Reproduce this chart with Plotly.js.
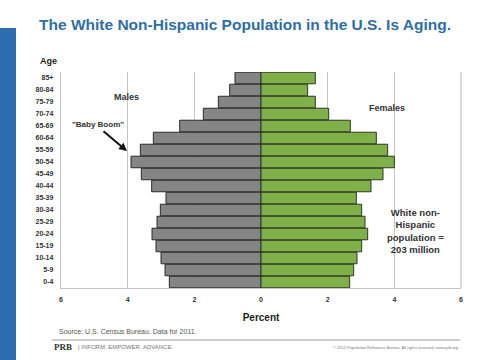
<!DOCTYPE html>
<html><head><meta charset="utf-8">
<script src="https://cdn.plot.ly/plotly-3.0.1.min.js"></script>
<style>html,body{margin:0;padding:0;background:#fff}#c{width:480px;height:360px}</style>
</head><body><div id="c"></div>
<script>
const ageGroups = ["0-4","5-9","10-14","15-19","20-24","25-29","30-34","35-39","40-44","45-49","50-54","55-59","60-64","65-69","70-74","75-79","80-84","85+"];
const males =   [2.75,2.88,3.00,3.15,3.27,3.12,3.02,2.85,3.28,3.59,3.90,3.62,3.23,2.44,1.73,1.28,0.94,0.78];
const females = [2.66,2.78,2.88,3.02,3.20,3.12,3.02,2.86,3.30,3.66,4.00,3.80,3.46,2.68,2.03,1.63,1.40,1.63];
const xTickVals = [-6,-4,-2,0,2,4,6];
const xTickText = ["6","4","2","0","2","4","6"];

// plot area in pixels
const L=61,R=461,T=72,B=288;
const px=x=>(x-L)/(R-L), py=y=>(B-y)/(B-T);

const tickFont={family:"Liberation Sans, Arial, sans-serif",size:7,color:"#333",weight:700};
const traces=[
 {type:"bar",orientation:"h",y:ageGroups,x:males.map(v=>-v),name:"Males",
  marker:{color:"#858585",line:{color:"#2a2a2a",width:1}},hoverinfo:"skip"},
 {type:"bar",orientation:"h",y:ageGroups,x:females,name:"Females",
  marker:{color:"#7fb04a",line:{color:"#2e3a1e",width:1}},hoverinfo:"skip"}
];
function ann(x,y,text,font,extra){
 return Object.assign({xref:"paper",yref:"paper",x:px(x),y:py(y),xanchor:"center",yanchor:"middle",text:text,showarrow:false,font:font},extra||{});
}
const layout={
 width:480,height:360,paper_bgcolor:"#fff",plot_bgcolor:"#fff",showlegend:false,
 margin:{l:L,r:480-R,t:T,b:360-B,pad:0},
 barmode:"overlay",bargap:0.04,
 font:{family:"Liberation Sans, Arial, sans-serif"},
 title:{text:"<b>The White Non-Hispanic Population in the U.S. Is Aging.</b>",
  font:{size:15.5,color:"#2f6ea3",family:"Liberation Sans, Arial, sans-serif"},
  xref:"container",x:245/480,xanchor:"center",yref:"container",y:1-25/360,yanchor:"middle"},
 xaxis:{range:[-6,6],tickvals:xTickVals,ticktext:xTickText,tickfont:tickFont,
  showgrid:true,gridcolor:"#c4c4c4",gridwidth:1.2,zeroline:true,zerolinecolor:"#111",zerolinewidth:1.5,
  showline:true,linecolor:"#c4c4c4",linewidth:1.2,ticks:"",ticklabelstandoff:4,fixedrange:true,
  title:{text:"<b>Percent</b>",font:{size:10,color:"#222"},standoff:12}},
 yaxis:{type:"category",categoryorder:"array",categoryarray:ageGroups,tickfont:tickFont,
  showgrid:false,showline:true,linecolor:"#c4c4c4",linewidth:1.2,ticks:"",ticklabelstandoff:5,fixedrange:true},
 shapes:[
  {type:"rect",xref:"paper",yref:"paper",x0:px(0),x1:px(16),y0:py(28),y1:py(362),fillcolor:"#2e6cb0",line:{width:0},layer:"above"},
  {type:"line",xref:"paper",yref:"paper",x0:1,x1:1,y0:0,y1:1,line:{color:"#c4c4c4",width:1.2},layer:"below"},
  {type:"line",xref:"paper",yref:"paper",x0:px(52),x1:px(460),y0:py(340),y1:py(340),line:{color:"#9a9a9a",width:1.2}}
 ],
 annotations:[
  ann(48,61,"<b>Age</b>",{size:9,color:"#222"}),
  ann(126,97,"<b>Males</b>",{size:9,color:"#333"}),
  ann(387,108,"<b>Females</b>",{size:9,color:"#333"}),
  ann(98,124,"<b>\"Baby Boom\"</b>",{size:8,color:"#333"}),
  ann(127,151,"",{},{showarrow:true,axref:"pixel",ayref:"pixel",ax:-25,ay:-21,arrowhead:2,arrowsize:0.8,arrowwidth:2,arrowcolor:"#111"}),
  ann(415,231,"<b>White non-<br>Hispanic<br>population =<br>203 million</b>",{size:9.5,color:"#333"},{align:"center"}),
  ann(57,331,"Source: U.S. Census Bureau. Data for 2011.",{size:7,color:"#555"},{xanchor:"left"}),
  ann(52,347,"<b>PRB</b>",{size:9,color:"#333",family:"Liberation Serif, Times New Roman, serif"},{xanchor:"left"}),
  ann(76,347,"| INFORM. EMPOWER. ADVANCE.",{size:6,color:"#777"},{xanchor:"left"}),
  ann(460,347,"© 2012 Population Reference Bureau. All rights reserved. www.prb.org",{size:4,color:"#777"},{xanchor:"right"})
 ]
};
Plotly.newPlot("c",traces,layout,{displayModeBar:false,staticPlot:true});
</script></body></html>
